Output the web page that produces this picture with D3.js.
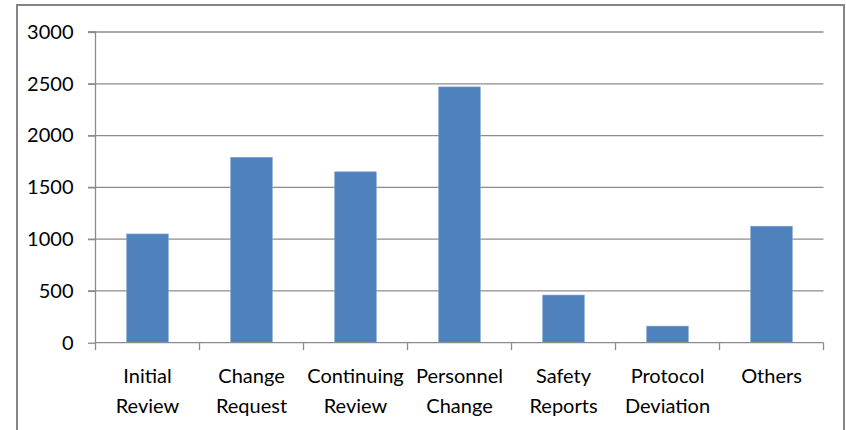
<!DOCTYPE html>
<html><head><meta charset="utf-8">
<script src="https://cdn.jsdelivr.net/npm/d3@7"></script>
<style>body{margin:0;background:#fff}svg{display:block}</style>
</head><body>
<svg id="c" width="846" height="430"></svg>
<script>
const categories = [["Initial","Review"],["Change","Request"],["Continuing","Review"],["Personnel","Change"],["Safety","Reports"],["Protocol","Deviation"],["Others"]];
const values = [1050, 1790, 1650, 2470, 460, 160, 1125];
const yTicks = [0, 500, 1000, 1500, 2000, 2500, 3000];

(function(){
const svg = d3.select("#c");
const font = "Lato, 'Open Sans', sans-serif";
svg.append("rect").attr("x",17).attr("y",5).attr("width",827).attr("height",440)
  .attr("fill","#fff").attr("stroke","#868686").attr("stroke-width",2);

const pLeft = 95.5, pRight = 823.5, pTop = 32, pBottom = 342.7;
const keys = categories.map((d,i)=>i);
const x = d3.scaleBand().domain(keys).range([pLeft,pRight]).paddingInner(0.6).paddingOuter(0.3);
const y = d3.scaleLinear().domain([0,3000]).range([pBottom,pTop]);

svg.append("g").selectAll("line").data(yTicks.filter(d=>d>0)).join("line")
  .attr("x1",88).attr("x2",pRight).attr("y1",d=>y(d)).attr("y2",d=>y(d))
  .attr("stroke","#8c8c8c").attr("stroke-width",1.3);

const ya = svg.append("g").attr("transform",`translate(${pLeft},0)`)
  .call(d3.axisLeft(y).tickValues(yTicks).tickSize(7.5).tickPadding(14.5).tickFormat(d3.format("d")));
ya.select(".domain").attr("stroke","#8c8c8c").attr("stroke-width",1.3).attr("d",`M-7.5,${pTop}H0V${pBottom}`);
ya.selectAll(".tick line").attr("stroke","#8c8c8c").attr("stroke-width",1.3);
ya.selectAll("text").attr("font-family",font).attr("font-size",20).attr("fill","#000");

svg.append("g").selectAll("rect").data(values).join("rect")
  .attr("x",(d,i)=>x(i)).attr("width",x.bandwidth())
  .attr("y",d=>y(d)).attr("height",d=>pBottom-y(d))
  .attr("fill","#4f81bd").attr("stroke","#7fa3d1").attr("stroke-width",0.6);

const step = x.step();
const bounds = d3.range(keys.length+1).map(i=>pLeft+i*step);
svg.append("line").attr("x1",pLeft).attr("x2",pRight).attr("y1",pBottom).attr("y2",pBottom)
  .attr("stroke","#8c8c8c").attr("stroke-width",1.3);
svg.append("g").selectAll("line").data(bounds).join("line")
  .attr("x1",d=>d).attr("x2",d=>d).attr("y1",pBottom).attr("y2",pBottom+7.5)
  .attr("stroke","#8c8c8c").attr("stroke-width",1.3);

const lab = svg.append("g").selectAll("text").data(categories).join("text")
  .attr("text-anchor","middle").attr("font-family",font).attr("font-size",20).attr("fill","#000")
  .attr("x",(d,i)=>x(i)+x.bandwidth()/2);
lab.selectAll("tspan").data(d=>d).join("tspan")
  .attr("x",function(){return this.parentNode.getAttribute("x");})
  .attr("y",(d,j)=>383+j*30).text(d=>d);
})();
</script>
</body></html>
